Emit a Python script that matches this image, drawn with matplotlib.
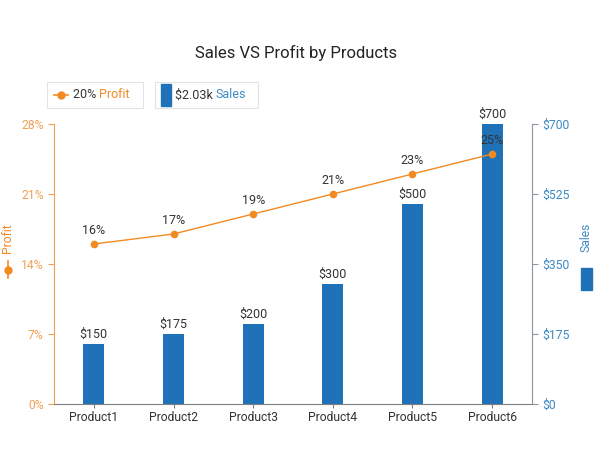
import matplotlib
matplotlib.use("Agg")
import matplotlib.pyplot as plt
from matplotlib.patches import Rectangle
from matplotlib.lines import Line2D
from decimal import Decimal, ROUND_HALF_UP
import numpy as np

products = ["Product1", "Product2", "Product3", "Product4", "Product5", "Product6"]
sales = [150, 175, 200, 300, 500, 700]
profit = [16, 17, 19, 21, 23, 25]
profit_ticks = [0, 7, 14, 21, 28]
sales_ticks = [0, 175, 350, 525, 700]

ORANGE = "#F28A22"
ORANGE_LT = "#F0A055"
BLUE = "#1F72B8"
BLUE_LT = "#3C8AC4"
DARK = "#333333"
GRAY = "#8A96A3"

plt.rcParams['font.family'] = ['Roboto', 'DejaVu Sans']

W, H = 595, 469
fig = plt.figure(figsize=(W / 100, H / 100), dpi=100)
fig.patch.set_facecolor("white")

def fx(px):
    return px / W

def fy(py):
    return 1 - py / H

ax = fig.add_axes([fx(54), fy(404), fx(532) - fx(54), fy(124) - fy(404)])
ax2 = ax.twinx()

x = np.arange(len(products))

# Sales bars on right axis
ax2.bar(x, sales, width=0.26, color=BLUE, zorder=2)
ax2.set_ylim(0, 700)
ax2.set_yticks(sales_ticks)
ax2.set_yticklabels([f"${v}" for v in sales_ticks])
for xi, v in zip(x, sales):
    ax2.text(xi, v + 8, f"${v}", ha="center", va="bottom", fontsize=9, color=DARK)

# Profit line on left axis
ax.set_zorder(ax2.get_zorder() + 1)
ax.patch.set_visible(False)
ax.plot(x, profit, color=ORANGE, lw=1, marker="o", ms=4.5, zorder=3)
for xi, v in zip(x, profit):
    ax.text(xi, v + 0.7, f"{v}%", ha="center", va="bottom", fontsize=9, color=DARK, zorder=4)
ax.set_ylim(0, 28)
ax.set_yticks(profit_ticks)
ax.set_yticklabels([f"{v}%" for v in profit_ticks])
ax.set_xlim(-0.5, len(products) - 0.5)
ax.set_xticks(x)
ax.set_xticklabels(products)

for a in (ax, ax2):
    a.spines["top"].set_visible(False)
ax.spines["right"].set_visible(False)
ax.spines["left"].set_color(ORANGE_LT)
ax.spines["bottom"].set_color("#7F7F7F")
ax2.spines["left"].set_visible(False)
ax2.spines["bottom"].set_visible(False)
ax2.spines["right"].set_color(GRAY)

ax.tick_params(axis="y", colors=ORANGE_LT, labelsize=8.7, length=4, width=0.8)
ax.tick_params(axis="x", colors="#7F7F7F", labelcolor=DARK, labelsize=8.7, length=3, width=0.8, pad=2)
ax2.tick_params(axis="y", colors=GRAY, labelcolor=BLUE_LT, labelsize=8.7, length=4, width=0.8)

# Title
fig.text(fx(296), fy(53), "Sales VS Profit by Products", ha="center", va="center",
         fontsize=12, color="#222222")

# Legend boxes
fig.patches.append(Rectangle((fx(47), fy(108)), fx(143) - fx(47), fy(82) - fy(108),
                             transform=fig.transFigure, fill=False, ec="#E3E3E3", lw=0.8))
fig.patches.append(Rectangle((fx(155), fy(108)), fx(258) - fx(155), fy(82) - fy(108),
                             transform=fig.transFigure, fill=False, ec="#E3E3E3", lw=0.8))
fig.lines.append(Line2D([fx(54), fx(68)], [fy(95), fy(95)], transform=fig.transFigure,
                        color=ORANGE, lw=1.2))
fig.lines.append(Line2D([fx(61)], [fy(95)], transform=fig.transFigure, color=ORANGE,
                        marker="o", ms=5))
avg_profit = int(Decimal(str(np.mean(profit))).quantize(Decimal("1"), rounding=ROUND_HALF_UP))
total_sales = Decimal(sum(sales)) / Decimal(1000)
total_txt = total_sales.quantize(Decimal("0.01"), rounding=ROUND_HALF_UP)
t1 = fig.text(fx(73), fy(95), f"{avg_profit}% ", ha="left", va="center", fontsize=9, color=DARK)
fig.canvas.draw()
r = fig.canvas.get_renderer()
bb = t1.get_window_extent(r)
fig.text(bb.x1 / W, fy(95), "Profit", ha="left", va="center", fontsize=9, color=ORANGE)

fig.patches.append(Rectangle((fx(161), fy(106)), fx(171) - fx(161), fy(84) - fy(106),
                             transform=fig.transFigure, color=BLUE))
t2 = fig.text(fx(175), fy(95), f"${total_txt}k ", ha="left", va="center", fontsize=9, color=DARK)
bb2 = t2.get_window_extent(r)
fig.text(bb2.x1 / W, fy(95), "Sales", ha="left", va="center", fontsize=9, color=BLUE_LT)

# Axis titles with symbols
fig.text(fx(8), fy(238), "Profit", rotation=90, ha="center", va="center", fontsize=8.7, color=ORANGE)
fig.lines.append(Line2D([fx(8), fx(8)], [fy(261), fy(278)], transform=fig.transFigure,
                        color=ORANGE, lw=1.2))
fig.lines.append(Line2D([fx(8)], [fy(269.5)], transform=fig.transFigure, color=ORANGE,
                        marker="o", ms=5))

fig.text(fx(586), fy(237), "Sales", rotation=90, ha="center", va="center", fontsize=8.7, color=BLUE_LT)
fig.patches.append(Rectangle((fx(581), fy(290)), fx(592) - fx(581), fy(268) - fy(290),
                             transform=fig.transFigure, color=BLUE))

fig.savefig("out.png", dpi=100, facecolor="white")
